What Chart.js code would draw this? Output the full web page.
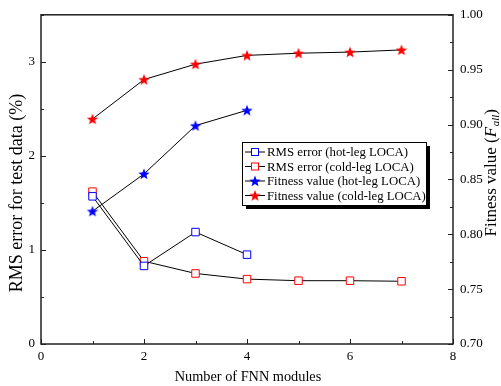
<!DOCTYPE html>
<html lang="en">
<head>
  <meta charset="UTF-8">
  <title>FNN modules</title>
  <style>
    html, body { margin: 0; padding: 0; background: #fff; }
    #wrap { width: 501px; height: 386px; }
  </style>
  <script src="https://cdn.jsdelivr.net/npm/chart.js"></script>
</head>
<body>
  <div id="wrap"><canvas id="myChart" width="501" height="386"></canvas></div>
  <script>
    // data
    const modules = [1, 2, 3, 4, 5, 6, 7];
    const rmsHot = [1.57, 0.83, 1.19, 0.95];
    const rmsCold = [1.62, 0.88, 0.75, 0.69, 0.673, 0.673, 0.667];
    const fitHot = [0.821, 0.855, 0.899, 0.913];
    const fitCold = [0.905, 0.941, 0.955, 0.963, 0.965, 0.966, 0.968];
    const seriesNames = ['RMS error (hot-leg LOCA)', 'RMS error (cold-leg LOCA)',
                         'Fitness value (hot-leg LOCA)', 'Fitness value (cold-leg LOCA)'];

    const FONT = '"Liberation Serif", "DejaVu Serif", serif';

    function makeStar(color, size) {
      const c = document.createElement('canvas');
      c.width = size; c.height = size;
      const g = c.getContext('2d');
      const cx = size / 2, cy = size / 2 + 0.5, R = size / 2, r = R * 0.42;
      g.beginPath();
      for (let i = 0; i < 10; i++) {
        const rad = i % 2 ? r : R;
        const a = -Math.PI / 2 + i * Math.PI / 5;
        g.lineTo(cx + rad * Math.cos(a), cy + rad * Math.sin(a));
      }
      g.closePath();
      g.fillStyle = color;
      g.fill();
      return c;
    }
    const blueStar = makeStar('#0000ff', 12);
    const redStar = makeStar('#ff0000', 12);

    const pts = (arr) => arr.map((v, i) => ({x: modules[i], y: v}));

    const datasets = [
      {label: seriesNames[0], data: pts(rmsHot), yAxisID: 'y', pointStyle: 'rect', pointRadius: 5.3,
       pointBorderColor: '#0000ff', pointBackgroundColor: '#fff', pointBorderWidth: 1, mk: 'sq', mc: '#0000ff'},
      {label: seriesNames[1], data: pts(rmsCold), yAxisID: 'y', pointStyle: 'rect', pointRadius: 5.3,
       pointBorderColor: '#ff0000', pointBackgroundColor: '#fff', pointBorderWidth: 1, mk: 'sq', mc: '#ff0000'},
      {label: seriesNames[2], data: pts(fitHot), yAxisID: 'y2', pointStyle: blueStar, mk: blueStar},
      {label: seriesNames[3], data: pts(fitCold), yAxisID: 'y2', pointStyle: redStar, mk: redStar}
    ];
    datasets.forEach(d => { d.borderColor = '#000'; d.borderWidth = 1; d.tension = 0; d.fill = false; });

    // frame, inward ticks, titles and legend
    const decor = {
      id: 'decor',
      afterDraw(chart) {
        const ctx = chart.ctx, a = chart.chartArea;
        const sx = chart.scales.x, sy = chart.scales.y, s2 = chart.scales.y2;
        ctx.save();
        ctx.strokeStyle = '#222';
        ctx.lineWidth = 1.5;
        ctx.strokeRect(a.left, a.top, a.right - a.left, a.bottom - a.top);
        ctx.lineWidth = 1;
        ctx.beginPath();
        sx.ticks.forEach((t, i) => {
          const p = Math.round(sx.getPixelForValue(t.value)) + 0.5;
          const len = i % 2 === 0 ? 5 : 3;
          ctx.moveTo(p, a.bottom); ctx.lineTo(p, a.bottom - len);
        });
        sy.ticks.forEach((t, i) => {
          const p = Math.round(sy.getPixelForValue(t.value)) + 0.5;
          const len = i % 2 === 0 ? 5 : 3;
          ctx.moveTo(a.left, p); ctx.lineTo(a.left + len, p);
        });
        s2.ticks.forEach((t, i) => {
          const p = Math.round(s2.getPixelForValue(t.value)) + 0.5;
          const len = i % 2 === 0 ? 5 : 3;
          ctx.moveTo(a.right, p); ctx.lineTo(a.right - len, p);
        });
        ctx.stroke();

        // axis titles
        ctx.fillStyle = '#000';
        ctx.textBaseline = 'alphabetic';
        ctx.textAlign = 'center';
        ctx.font = '14.3px ' + FONT;
        ctx.fillText('Number of FNN modules', 248, 381);

        ctx.save();
        ctx.translate(22, 193);
        ctx.rotate(-Math.PI / 2);
        ctx.font = '18px ' + FONT;
        ctx.fillText('RMS error for test data (%)', 0, 0);
        ctx.restore();

        ctx.save();
        ctx.translate(496, 173);
        ctx.rotate(-Math.PI / 2);
        const parts = [
          {t: 'Fitness value (', f: '17px ' + FONT, dy: 0},
          {t: 'F', f: 'italic 17px ' + FONT, dy: 0},
          {t: 'all', f: 'italic 11px ' + FONT, dy: 3},
          {t: ')', f: '17px ' + FONT, dy: 0}
        ];
        let total = 0;
        parts.forEach(p => { ctx.font = p.f; p.w = ctx.measureText(p.t).width; total += p.w; });
        let x = -total / 2;
        ctx.textAlign = 'left';
        parts.forEach(p => { ctx.font = p.f; ctx.fillText(p.t, x, p.dy); x += p.w + (p.t === 'F' ? 0.5 : 0); });
        ctx.restore();

        // legend box with shadow
        const lx = 242, ly = 142, lw = 184, lh = 63;
        ctx.fillStyle = '#000';
        ctx.fillRect(lx + 4, ly + 4, lw, lh);
        ctx.fillStyle = '#fff';
        ctx.fillRect(lx, ly, lw, lh);
        ctx.strokeStyle = '#000';
        ctx.lineWidth = 1;
        ctx.strokeRect(lx + 0.5, ly + 0.5, lw, lh);
        ctx.font = '12.8px ' + FONT;
        ctx.textAlign = 'left';
        ctx.textBaseline = 'middle';
        chart.data.datasets.forEach((d, i) => {
          const yy = ly + 10 + i * 14.5;
          ctx.beginPath();
          ctx.strokeStyle = '#000';
          ctx.moveTo(lx + 3, yy); ctx.lineTo(lx + 23, yy);
          ctx.stroke();
          if (d.mk === 'sq') {
            ctx.fillStyle = '#fff';
            ctx.fillRect(lx + 9.5, yy - 3.5, 7, 7);
            ctx.strokeStyle = d.mc;
            ctx.strokeRect(lx + 9.5, yy - 3.5, 7, 7);
          } else {
            ctx.drawImage(d.mk, lx + 13 - 6, yy - 6);
          }
          ctx.fillStyle = '#000';
          ctx.fillText(d.label, lx + 25, yy + 1);
        });
        ctx.restore();
      }
    };

    const tickFont = {family: FONT, size: 13};
    const config = {
      type: 'line',
      data: {datasets: datasets},
      options: {
        responsive: false,
        animation: false,
        layout: {padding: {top: 14, left: 0, right: 0, bottom: 0}},
        plugins: {legend: {display: false}, tooltip: {enabled: false}},
        scales: {
          x: {
            type: 'linear', min: 0, max: 8,
            grid: {display: false, drawTicks: false}, border: {display: false},
            ticks: {stepSize: 1, font: tickFont, color: '#000', padding: 5, maxRotation: 0,
                    callback: (v) => (v % 2 === 0 ? String(v) : '')},
            afterFit: (s) => { s.height = 42; }
          },
          y: {
            position: 'left', min: 0, max: 3.5,
            grid: {display: false, drawTicks: false}, border: {display: false},
            ticks: {stepSize: 0.5, font: tickFont, color: '#000', padding: 6,
                    callback: (v) => (Number.isInteger(v) ? String(v) : '')},
            afterFit: (s) => { s.width = 41; }
          },
          y2: {
            position: 'right', min: 0.7, max: 1.0,
            grid: {display: false, drawTicks: false}, border: {display: false},
            ticks: {stepSize: 0.025, font: tickFont, color: '#000', padding: 7,
                    callback: (v, i) => (i % 2 === 0 ? v.toFixed(2) : '')},
            afterFit: (s) => { s.width = 48; }
          }
        }
      },
      plugins: [decor]
    };

    const myChart = new Chart(document.getElementById('myChart').getContext('2d'), config);
  </script>
</body>
</html>
